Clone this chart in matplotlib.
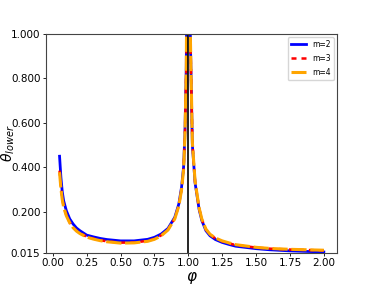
import matplotlib
matplotlib.use("Agg")
import matplotlib.pyplot as plt
import numpy as np

# phi values (denser near the ends and the peak at phi = 1)
phi = np.array([0.05, 0.06, 0.07, 0.08, 0.1, 0.125, 0.15, 0.175, 0.2, 0.25, 0.3, 0.35,
                0.4, 0.5, 0.6, 0.7, 0.75, 0.8, 0.85, 0.9, 0.93, 0.95, 0.965, 0.975,
                0.985, 0.99, 1.01, 1.016, 1.03, 1.05, 1.08, 1.1, 1.13, 1.16, 1.2, 1.25,
                1.3, 1.35, 1.5, 1.6, 1.75, 2.0])

theta_m2 = np.array([0.450, 0.355, 0.290, 0.250, 0.205, 0.168, 0.145, 0.127, 0.115, 0.095,
                     0.087, 0.080, 0.075, 0.069, 0.069, 0.076, 0.085, 0.100, 0.125, 0.175,
                     0.235, 0.310, 0.400, 0.550, 0.850, 1.300, 1.300, 0.950, 0.500, 0.330,
                     0.210, 0.160, 0.115, 0.092, 0.075, 0.062, 0.053, 0.045, 0.034, 0.029,
                     0.024, 0.019])
theta_m3 = np.array([0.385, 0.310, 0.260, 0.225, 0.185, 0.152, 0.130, 0.115, 0.104, 0.088,
                     0.079, 0.072, 0.067, 0.061, 0.062, 0.069, 0.078, 0.094, 0.120, 0.170,
                     0.228, 0.300, 0.390, 0.540, 0.840, 1.300, 1.300, 0.960, 0.510, 0.335,
                     0.215, 0.165, 0.120, 0.097, 0.080, 0.067, 0.058, 0.050, 0.039, 0.034,
                     0.030, 0.026])
theta_m4 = np.array([0.378, 0.304, 0.255, 0.221, 0.182, 0.150, 0.128, 0.113, 0.102, 0.086,
                     0.077, 0.070, 0.065, 0.059, 0.060, 0.067, 0.076, 0.092, 0.118, 0.168,
                     0.226, 0.298, 0.388, 0.538, 0.838, 1.300, 1.300, 0.962, 0.512, 0.337,
                     0.217, 0.167, 0.122, 0.099, 0.082, 0.069, 0.060, 0.052, 0.040, 0.035,
                     0.031, 0.027])

yticks = [0.015, 0.2, 0.4, 0.6, 0.8, 1.0]
xticks = [0.0, 0.25, 0.5, 0.75, 1.0, 1.25, 1.5, 1.75, 2.0]

fig = plt.figure(figsize=(3.74, 2.91), dpi=100)
ax = fig.add_axes([0.123, 0.131, 0.778, 0.752])

ax.plot(phi, theta_m2, color="blue", linewidth=2.0, label="m=2")
ax.plot(phi, theta_m3, color="red", linewidth=1.8, linestyle=(0, (2, 2)), label="m=3")
ax.plot(phi, theta_m4, color="orange", linewidth=2.2, linestyle=(0, (5, 1.2)), label="m=4")
ax.axvline(1.0, color="black", linewidth=1.2)

ax.set_xlim(-0.05, 2.097)
ax.set_ylim(0.015, 1.0)
ax.set_yticks(yticks)
ax.set_yticklabels(["%.3f" % v for v in yticks])
ax.set_xticks(xticks)
ax.set_xticklabels(["%.2f" % v for v in xticks])
ax.tick_params(labelsize=7.5, length=2.5, width=0.6, pad=1.5)
for s in ax.spines.values():
    s.set_linewidth(0.8)
    s.set_color("#444444")

ax.set_xlabel(r"$\varphi$", fontsize=11, labelpad=1)
ax.set_ylabel(r"$\theta_{lower}$", fontsize=10)
ax.yaxis.set_label_coords(-0.1, 0.5)
ax.legend(loc="upper right", fontsize=5.5, handlelength=2.0, labelspacing=0.65,
          borderaxespad=0.4)

fig.savefig("out.png", dpi=100)
